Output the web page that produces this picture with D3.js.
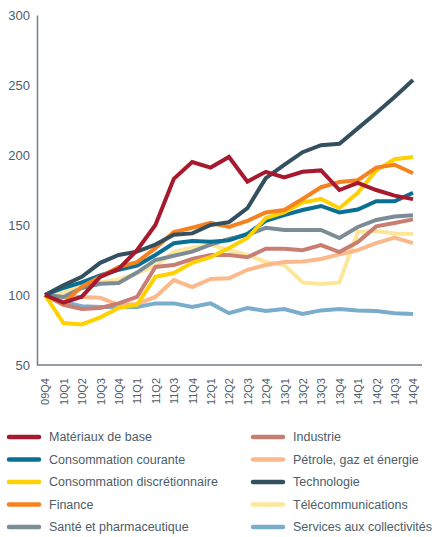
<!DOCTYPE html>
<html>
<head>
<meta charset="utf-8">
<script src="https://cdn.jsdelivr.net/npm/d3@7"></script>
<style>
  body { margin: 0; background: #fff; }
  text { font-family: "Liberation Sans", Arial, sans-serif; }
</style>
</head>
<body>
<svg id="chart" width="436" height="537"></svg>
<script>
const quarters = ["09Q4", "10Q1", "10Q2", "10Q3", "10Q4", "11Q1", "11Q2", "11Q3", "11Q4",
  "12Q1", "12Q2", "12Q3", "12Q4", "13Q1", "13Q2", "13Q3", "13Q4", "14Q1", "14Q2", "14Q3", "14Q4"];

const materiaux = [100, 94.5, 98.8, 113, 118.6, 132, 150, 183, 195, 191, 198.6, 181, 188, 184, 188, 189, 175, 180, 175, 171, 168.5];
const consCourante = [100, 105, 109, 114, 118, 121, 128.6, 137, 138.6, 138, 139, 143.6, 153, 157, 160.7, 163.6, 159, 161, 167, 167, 173];
const consDiscr = [100, 80, 79, 84, 90.7, 93, 113, 115.7, 123, 127, 133.6, 140.7, 155, 159, 166, 168.6, 162, 173, 189, 197, 198.6];
const finance = [100, 94, 106, 113, 120, 123.5, 133.5, 145, 148, 151.5, 148.6, 153, 159, 160.7, 168.6, 177, 180.7, 182, 191, 193, 187];
const sante = [100, 98.6, 105, 108, 108.6, 116, 125, 128, 131, 136, 140, 143, 148, 146.4, 146.4, 146.4, 140.7, 148.6, 153.6, 156, 157];
const industrie = [100, 93, 90, 90.7, 94, 98.6, 120, 121.4, 125.7, 128.6, 128.6, 127, 133, 133, 132, 135.7, 130.7, 137.8, 149, 151.4, 154];
const petrole = [100, 98.6, 98.6, 98, 93, 93.6, 98.6, 110.7, 105.7, 111.4, 112, 118, 121.4, 123.6, 124, 125.7, 129, 132, 137, 141, 137];
const technologie = [100, 107, 113, 123, 128.6, 131, 136, 143, 144, 150, 152, 162, 183.5, 193, 202, 207, 208, 219, 230, 241.5, 253.5];
const telecom = [100, 102, 106, 109, 111, 115.7, 120.7, 131, 133.6, 136, 132, 128.6, 123.6, 121.4, 109, 107.9, 109, 145, 145.7, 144, 143.6];
const services = [100, 95, 92, 91.4, 91.4, 91.4, 94, 94, 91.4, 94, 87, 90.7, 88.6, 90, 86.4, 89, 90, 89, 88.6, 87, 86.4];

const yTicks = [50, 100, 150, 200, 250, 300];

// legend order (two columns, left then right)
const series = [
  { name: "Matériaux de base", values: materiaux, color: "#a6192e" },
  { name: "Consommation courante", values: consCourante, color: "#0a6f94" },
  { name: "Consommation discrétionnaire", values: consDiscr, color: "#ffd100" },
  { name: "Finance", values: finance, color: "#f5821f" },
  { name: "Santé et pharmaceutique", values: sante, color: "#7b8c97" },
  { name: "Industrie", values: industrie, color: "#c97e74" },
  { name: "Pétrole, gaz et énergie", values: petrole, color: "#fbb98b" },
  { name: "Technologie", values: technologie, color: "#34505e" },
  { name: "Télécommunications", values: telecom, color: "#fde69a" },
  { name: "Services aux collectivités", values: services, color: "#7aaccc" }
];

// drawing order: light lines underneath, red on top
const drawOrder = ["Services aux collectivités", "Télécommunications", "Pétrole, gaz et énergie",
  "Industrie", "Santé et pharmaceutique", "Consommation courante", "Consommation discrétionnaire",
  "Finance", "Technologie", "Matériaux de base"];

const svg = d3.select("#chart");
const axisColor = "#6f7f8a";
const textColor = "#4d5d69";

const x = d3.scalePoint().domain(quarters).range([45, 413]);
const y = d3.scaleLinear().domain([50, 300]).range([365, 15]);

// y axis
const yAxis = svg.append("g")
  .attr("transform", "translate(37,0)")
  .call(d3.axisLeft(y).tickValues(yTicks).tickSize(0).tickPadding(7));
yAxis.select(".domain").attr("stroke", axisColor).attr("stroke-width", 1.5);
yAxis.selectAll("text")
  .attr("fill", textColor)
  .style("font-size", "13px")
  .style("font-family", "'Liberation Sans', Arial, sans-serif");

// x axis
const xAxis = svg.append("g")
  .attr("transform", "translate(0,365)")
  .call(d3.axisBottom(x).tickSize(0).tickPadding(0));
xAxis.select(".domain")
  .attr("d", "M37,0H422")
  .attr("stroke", axisColor).attr("stroke-width", 1.5);
xAxis.selectAll("text")
  .attr("fill", textColor)
  .style("font-size", "11px")
  .style("font-family", "'Liberation Sans', Arial, sans-serif")
  .attr("text-anchor", "end")
  .attr("transform", "rotate(-90)")
  .attr("x", -13)
  .attr("y", 0)
  .attr("dy", "0.35em");

// lines
const line = d3.line()
  .x((d, i) => x(quarters[i]))
  .y((d) => y(d));

svg.append("g")
  .selectAll("path")
  .data(drawOrder.map((n) => series.find((s) => s.name === n)))
  .join("path")
  .attr("d", (d) => line(d.values))
  .attr("fill", "none")
  .attr("stroke", (d) => d.color)
  .attr("stroke-width", 4)
  .attr("stroke-linejoin", "miter")
  .attr("stroke-linecap", "butt");

// legend
const legend = svg.append("g");
const item = legend.selectAll("g")
  .data(series)
  .join("g")
  .attr("transform", (d, i) => {
    const col = Math.floor(i / 5);
    const row = i % 5;
    return `translate(${col === 0 ? 9 : 253},${437 + row * 22.5})`;
  });

item.append("line")
  .attr("x1", 0).attr("x2", 30)
  .attr("stroke", (d) => d.color)
  .attr("stroke-width", 4.5)
  .attr("stroke-linecap", "round");

item.append("text")
  .attr("x", 40)
  .attr("dy", "0.35em")
  .attr("fill", textColor)
  .style("font-size", "12.5px")
  .text((d) => d.name);
</script>
</body>
</html>
